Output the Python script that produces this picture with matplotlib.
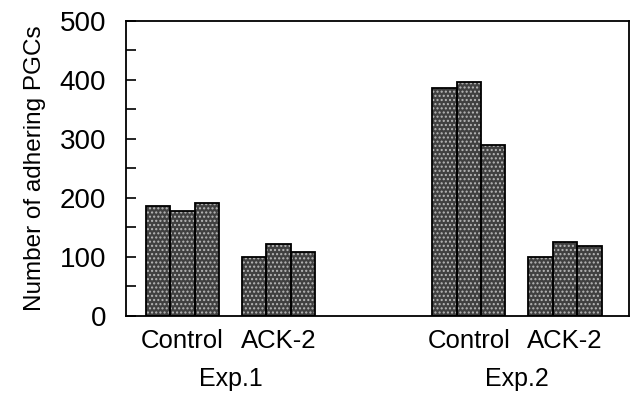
import matplotlib.pyplot as plt
import numpy as np

plt.rcParams['font.family'] = ['Liberation Sans', 'DejaVu Sans']

experiments = ["Exp.1", "Exp.2"]
conditions = ["Control", "ACK-2"]
# three replicate counts per condition
exp1_control = [186, 178, 191]
exp1_ack2 = [100, 122, 109]
exp2_control = [386, 397, 290]
exp2_ack2 = [100, 125, 119]
yticks = [0, 100, 200, 300, 400, 500]

data = [[exp1_control, exp1_ack2], [exp2_control, exp2_ack2]]
group_starts = [[0.82, 4.75], [12.54, 16.48]]

fig = plt.figure(figsize=(6.35, 3.93), dpi=100)
ax = fig.add_axes([0.198, 0.196, 0.7926, 0.7506])

for e, exp in enumerate(experiments):
    for c, cond in enumerate(conditions):
        vals = data[e][c]
        x = group_starts[e][c] + 0.5 + np.arange(len(vals))
        ax.bar(x, vals, width=1.0, color='#404040', edgecolor='#b8b8b8',
               hatch='....', linewidth=0)
        ax.bar(x, vals, width=1.0, fill=False, edgecolor='black', linewidth=1.3)
        ax.text(x.mean(), -22, cond, ha='center', va='top', fontsize=18.5)
    centre = (group_starts[e][0] + group_starts[e][1] + 3) / 2
    ax.text(centre, -87, exp, ha='center', va='top', fontsize=18)

ax.set_xlim(0, 20.6)
ax.set_ylim(0, 500)
ax.set_xticks([])
ax.set_yticks(yticks)
ax.set_yticks(np.arange(50, 500, 100), minor=True)
ax.tick_params(axis='y', which='both', direction='in', length=7, width=1.2,
               labelsize=20, pad=14)
for s in ax.spines.values():
    s.set_linewidth(1.3)
ax.set_ylabel("Number of adhering PGCs", fontsize=17.5, labelpad=10)

plt.savefig("out.png")
